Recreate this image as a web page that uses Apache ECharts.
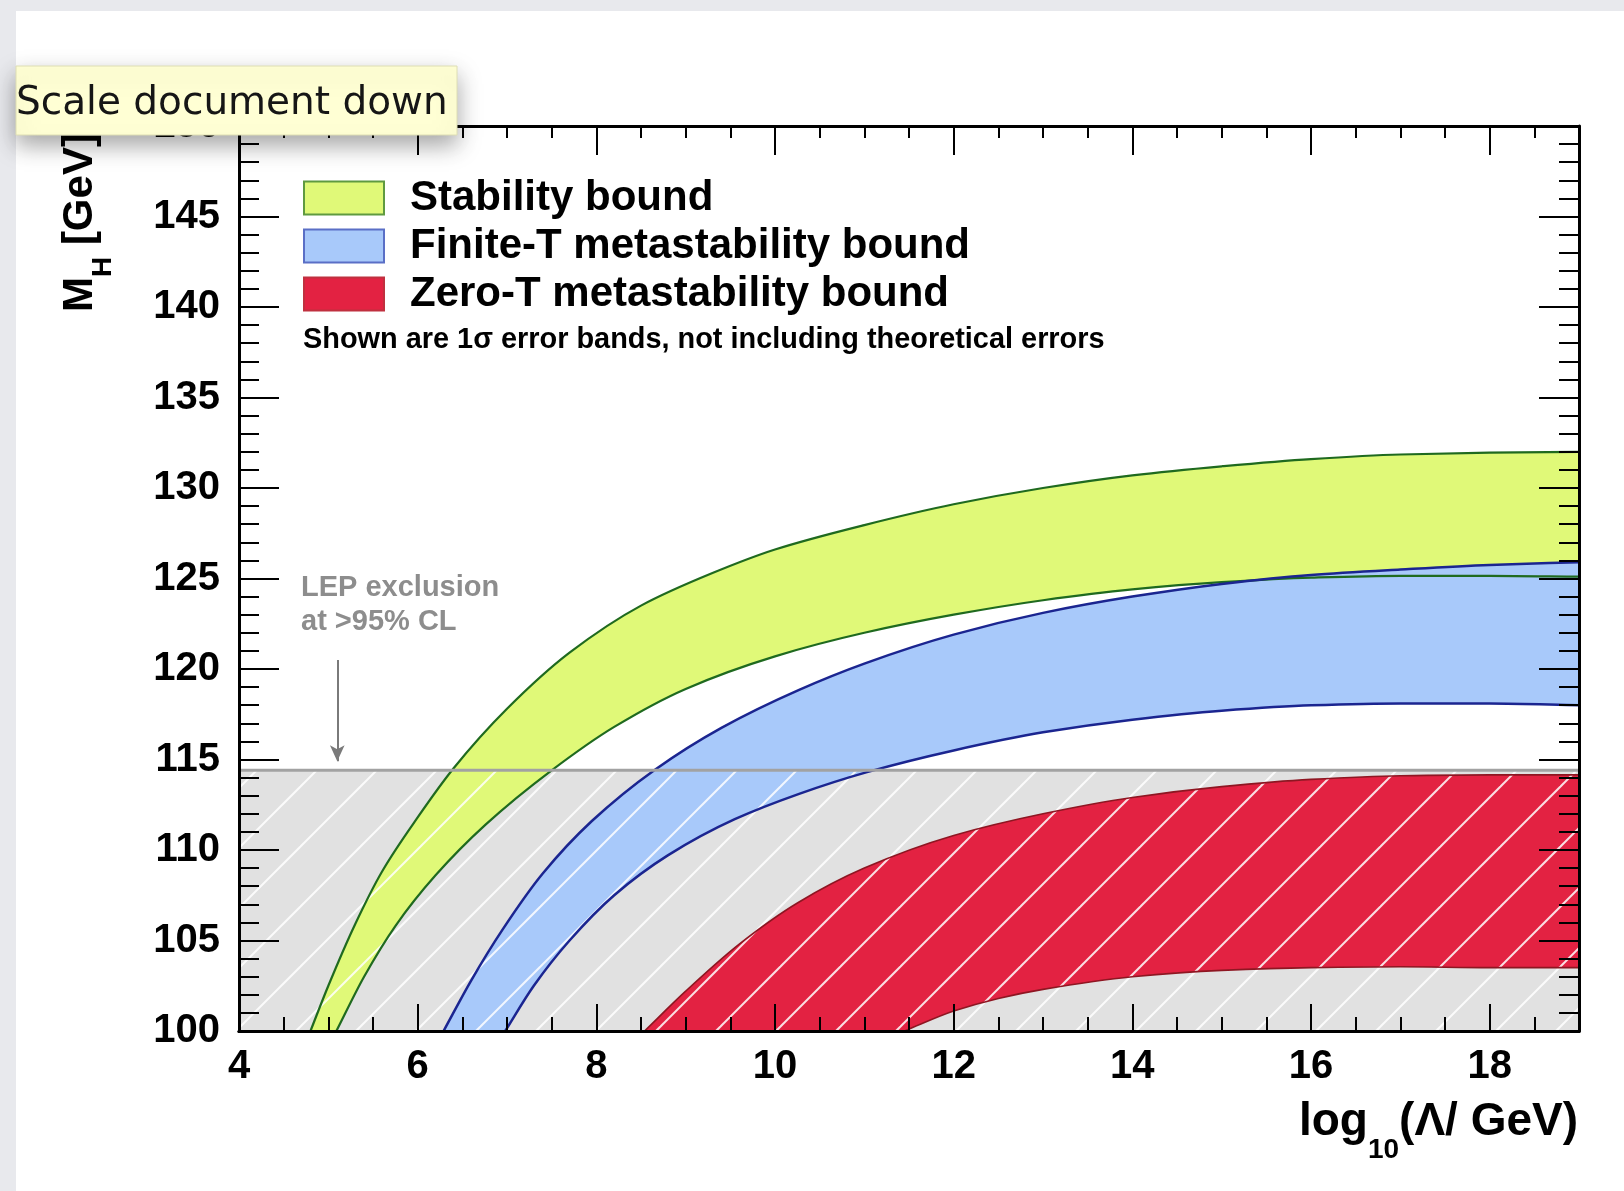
<!DOCTYPE html>
<html>
<head>
<meta charset="utf-8">
<script src="https://cdn.jsdelivr.net/npm/echarts@6/dist/echarts.min.js"></script>
<style>
  html, body { margin: 0; padding: 0; background: #e8e9ed; }
  #chart { width: 1624px; height: 1191px; }
</style>
</head>
<body>
<div id="chart"></div>
<script>
// ---- axis ranges / ticks ----
const xRange = [4, 19];          // log10(Λ/GeV)
const yRange = [100, 150];       // M_H [GeV]
const xMajorStep = 2;
const xMinorStep = 0.5;
const yMajorStep = 5;
const yMinorSplit = 5;

// ---- band edges: [log10(Λ/GeV), M_H] ----
const stabilityUpper = [[4.80,100],[5.0,102.5],[5.3,105.9],[5.6,108.8],[6.0,111.8],[6.4,114.5],[7.0,117.8],[7.7,120.9],[8.5,123.5],[9.3,125.3],[10.0,126.6],[11.0,127.95],[12.0,129.1],[13.0,130.0],[14.0,130.7],[15.0,131.2],[16.0,131.6],[17.0,131.85],[18.0,131.95],[19.0,132.0]];
const stabilityLower = [[5.09,100],[5.40,103.0],[5.75,105.8],[6.2,108.6],[6.76,111.4],[7.5,114.4],[8.2,116.8],[9.0,118.9],[10.0,120.7],[11.0,122.0],[12.0,123.0],[13.0,123.8],[14.0,124.4],[15.0,124.8],[16.0,125.05],[17.0,125.15],[18.0,125.15],[19.0,125.1]];
const finiteTUpper = [[6.29,100],[6.6,102.8],[6.95,105.6],[7.4,108.7],[7.95,111.6],[8.66,114.45],[9.4,116.75],[10.27,118.85],[11.0,120.3],[12.0,121.9],[13.0,123.1],[14.0,124.0],[15.0,124.7],[16.0,125.2],[17.0,125.5],[18.0,125.75],[19.0,125.9]];
const finiteTLower = [[6.98,100],[7.3,102.5],[7.7,105.0],[8.2,107.5],[8.8,109.7],[9.55,111.7],[10.27,113.1],[11.03,114.3],[12.0,115.5],[13.0,116.5],[14.0,117.2],[15.0,117.7],[16.0,118.0],[17.0,118.1],[18.0,118.1],[19.0,118.0]];
const zeroTUpper = [[8.54,100],[9.0,102.2],[9.6,104.8],[10.26,107.1],[11.0,109.0],[12.0,110.8],[13.0,112.0],[14.0,112.9],[15.0,113.5],[16.0,113.9],[17.0,114.1],[18.0,114.15],[19.0,114.15]];
const zeroTLower = [[11.45,100],[12.0,101.1],[12.5,101.8],[13.0,102.3],[14.0,103.0],[15.0,103.35],[16.0,103.5],[17.0,103.55],[18.0,103.5],[19.0,103.5]];

// ---- LEP exclusion ----
const lepBound = 114.4;
const lepArrow = [[5.1, 120.5], [5.1, 114.9]];

// ---- labels ----
const bandNames = ['Stability bound', 'Finite-T metastability bound', 'Zero-T metastability bound'];
const noteText = 'Shown are 1\u03c3 error bands, not including theoretical errors';
const lepText = 'LEP exclusion\nat >95% CL';
const tipText = 'Scale document down';

// ---- styles ----
const bandFill = ['#e0f978', '#a8c9fa', '#e32242'];
const bandEdge = ['#1f6a1f', '#1b2590', '#8e1622'];
const bandEdgeWidth = [2.2, 2.5, 1.6];
const legendEdge = ['#5f9a40', '#5a6fc6', '#c0303f'];
const FONT = '"Liberation Sans", Arial, Helvetica, sans-serif';

const bands = [
  { up: stabilityUpper, lo: stabilityLower },
  { up: finiteTUpper, lo: finiteTLower },
  { up: zeroTUpper, lo: zeroTLower }
];

// Monotone cubic (Fritsch-Butland tangents) through pixel points, as Bezier segments
function smoothSegments(pts) {
  const n = pts.length;
  if (n < 2) return '';
  const dx = [], s = [];
  for (let i = 0; i < n - 1; i++) {
    dx.push(pts[i + 1][0] - pts[i][0]);
    s.push((pts[i + 1][1] - pts[i][1]) / dx[i]);
  }
  const m = new Array(n);
  m[0] = s[0];
  m[n - 1] = s[n - 2];
  for (let i = 1; i < n - 1; i++) {
    if (s[i - 1] * s[i] <= 0) { m[i] = 0; continue; }
    const h0 = dx[i - 1], h1 = dx[i];
    m[i] = 3 * (h0 + h1) / ((2 * h1 + h0) / s[i - 1] + (h1 + 2 * h0) / s[i]);
  }
  let d = '';
  for (let i = 0; i < n - 1; i++) {
    const h = dx[i] / 3;
    const c1x = pts[i][0] + h, c1y = pts[i][1] + m[i] * h;
    const c2x = pts[i + 1][0] - h, c2y = pts[i + 1][1] - m[i + 1] * h;
    d += ' C' + c1x + ' ' + c1y + ' ' + c2x + ' ' + c2y + ' ' + pts[i + 1][0] + ' ' + pts[i + 1][1];
  }
  return d;
}
function curvePath(pts) {
  return 'M' + pts[0][0] + ' ' + pts[0][1] + smoothSegments(pts);
}

function bandFillRenderer(k) {
  return function (params, api) {
    const up = bands[k].up.map(p => api.coord(p));
    const lo = bands[k].lo.map(p => api.coord(p)).reverse();
    const d = curvePath(up) + ' L' + lo[0][0] + ' ' + lo[0][1] + smoothSegments(lo) + ' Z';
    return { type: 'path', shape: { pathData: d }, style: { fill: bandFill[k], stroke: 'none' } };
  };
}

function edgesRenderer(params, api) {
  const children = [];
  bands.forEach((b, k) => {
    [b.up, b.lo].forEach(curve => {
      children.push({
        type: 'path',
        shape: { pathData: curvePath(curve.map(p => api.coord(p))) },
        style: { fill: 'none', stroke: bandEdge[k], lineWidth: bandEdgeWidth[k] }
      });
    });
  });
  return { type: 'group', children };
}

function lepRect(fill) {
  return function (params, api) {
    const p0 = api.coord([xRange[0], lepBound]);
    const p1 = api.coord([xRange[1], yRange[0]]);
    return { type: 'rect', shape: { x: p0[0], y: p0[1], width: p1[0] - p0[0], height: p1[1] - p0[1] }, style: { fill, stroke: 'none' } };
  };
}

// white diagonal hatching tile
function hatchTile() {
  const c = document.createElement('canvas');
  c.width = 60; c.height = 60;
  const g = c.getContext('2d');
  g.strokeStyle = 'rgba(255,255,255,0.85)';
  g.lineWidth = 2;
  [7, 67].forEach(k => { g.beginPath(); g.moveTo(k + 10, -10); g.lineTo(-10, k + 10); g.stroke(); });
  return c;
}

// text measuring for the composed axis titles
const mctx = document.createElement('canvas').getContext('2d');
function textWidth(str, size) {
  mctx.font = 'bold ' + size + 'px ' + FONT;
  return mctx.measureText(str).width;
}

// y title: M_H [GeV], rotated
const yMain = 42, ySub = 28;
const wM = textWidth('M', yMain), wH = textWidth('H', ySub);
const yTitle = {
  type: 'group', x: 80, y: 312, rotation: Math.PI / 2, z: 20,
  children: [
    { type: 'text', x: 0, y: 0, style: { text: 'M', font: 'bold ' + yMain + 'px ' + FONT, fill: '#000', verticalAlign: 'middle' } },
    { type: 'text', x: wM, y: 23, style: { text: 'H', font: 'bold ' + ySub + 'px ' + FONT, fill: '#000', verticalAlign: 'middle' } },
    { type: 'text', x: wM + wH, y: 0, style: { text: ' [GeV]', font: 'bold ' + yMain + 'px ' + FONT, fill: '#000', verticalAlign: 'middle' } }
  ]
};

// x title: log10(Λ/GeV), right aligned to the axis end
const xMain = 46, xSub = 28;
const wLog = textWidth('log', xMain), w10 = textWidth('10', xSub), wRest = textWidth('(\u039b/ GeV)', xMain);
const xTitleRight = 1578;
const xStart = xTitleRight - (wLog + w10 + wRest);
const xTitle = {
  type: 'group', x: xStart, y: 1122, z: 20,
  children: [
    { type: 'text', x: 0, y: 0, style: { text: 'log', font: 'bold ' + xMain + 'px ' + FONT, fill: '#000', verticalAlign: 'middle' } },
    { type: 'text', x: wLog, y: 28, style: { text: '10', font: 'bold ' + xSub + 'px ' + FONT, fill: '#000', verticalAlign: 'middle' } },
    { type: 'text', x: wLog + w10, y: 0, style: { text: '(\u039b/ GeV)', font: 'bold ' + xMain + 'px ' + FONT, fill: '#000', verticalAlign: 'middle' } }
  ]
};

const labelStyle = { fontSize: 40, fontWeight: 'bold', fontFamily: FONT, color: '#000' };
const frameLine = { show: true, onZero: false, lineStyle: { color: '#000', width: 3 } };

function xAxisDef(position, step, tickLen, labels) {
  return {
    type: 'value', position, min: xRange[0], max: xRange[1], interval: step, z: 10,
    axisLine: frameLine,
    axisTick: { show: true, inside: true, length: tickLen, lineStyle: { color: '#000', width: 2 } },
    minorTick: { show: false },
    axisLabel: labels ? Object.assign({ margin: 16, showMaxLabel: false }, labelStyle) : { show: false },
    splitLine: { show: false }
  };
}
function yAxisDef(position, labels) {
  return {
    type: 'value', position, min: yRange[0], max: yRange[1], interval: yMajorStep, z: 10,
    axisLine: frameLine,
    axisTick: { show: true, inside: true, length: 40, lineStyle: { color: '#000', width: 2 } },
    minorTick: { show: true, splitNumber: yMinorSplit, length: 20, lineStyle: { color: '#000', width: 2 } },
    axisLabel: labels ? Object.assign({ margin: 19 }, labelStyle) : { show: false },
    splitLine: { show: false }
  };
}

const chart = echarts.init(document.getElementById('chart'), null, { renderer: 'canvas', width: 1624, height: 1191 });

chart.setOption({
  backgroundColor: '#e8e9ed',
  animation: false,
  grid: { left: 239, top: 126, width: 1340, height: 905, containLabel: false, outerBoundsMode: 'none' },
  xAxis: [
    xAxisDef('bottom', xMajorStep, 27, true),
    xAxisDef('bottom', xMinorStep, 14, false),
    xAxisDef('top', xMajorStep, 29, false),
    xAxisDef('top', xMinorStep, 12, false)
  ],
  yAxis: [yAxisDef('left', true), yAxisDef('right', false)],
  legend: {
    left: 303, top: 177, orient: 'vertical', padding: 0, itemGap: 6,
    itemWidth: 80, itemHeight: 33, selectedMode: false,
    textStyle: { fontSize: 42, fontWeight: 'bold', fontFamily: FONT, color: '#000', padding: [6, 0, 0, 21] },
    data: bandNames.map((n, k) => ({ name: n, icon: 'rect', itemStyle: { color: bandFill[k], borderColor: legendEdge[k], borderWidth: 2 } }))
  },
  series: [
    { type: 'custom', name: 'LEP region', silent: true, clip: true, z: 1, data: [[xRange[0], yRange[0]]], renderItem: lepRect('#e1e1e1') },
    ...bandNames.map((n, k) => ({
      type: 'custom', name: n, silent: true, clip: true, z: 2,
      itemStyle: { color: bandFill[k] },
      data: [[xRange[0], yRange[0]]], renderItem: bandFillRenderer(k)
    })),
    { type: 'custom', name: 'LEP hatch', silent: true, clip: true, z: 3, data: [[xRange[0], yRange[0]]], renderItem: lepRect({ image: hatchTile(), repeat: 'repeat' }) },
    { type: 'custom', name: 'band edges', silent: true, clip: true, z: 4, data: [[xRange[0], yRange[0]]], renderItem: edgesRenderer },
    {
      type: 'line', name: 'LEP bound', silent: true, z: 5, symbol: 'none',
      data: [[xRange[0], lepBound], [xRange[1], lepBound]],
      lineStyle: { color: '#a2a2a2', width: 3 },
      markLine: {
        silent: true, symbol: ['none', 'arrow'], symbolSize: [11, 16],
        label: { show: false },
        lineStyle: { color: '#7a7a7a', width: 2, type: 'solid' },
        data: [[{ coord: lepArrow[0] }, { coord: lepArrow[1] }]]
      }
    }
  ],
  graphic: [
    { type: 'rect', z: -10, shape: { x: 16, y: 11, width: 1700, height: 1300 }, style: { fill: '#ffffff' } },
    { type: 'text', x: 303, y: 340, z: 20, style: { text: noteText, font: 'bold 28.9px ' + FONT, fill: '#000', verticalAlign: 'middle' } },
    { type: 'text', x: 301, y: 571, z: 20, style: { text: lepText, font: 'bold 29px ' + FONT, fill: '#8d8d8d', lineHeight: 34, verticalAlign: 'top' } },
    yTitle,
    xTitle,
    {
      type: 'rect', z: 100, shape: { x: 16, y: 66, width: 441, height: 69 },
      style: { fill: '#ffffd4', stroke: '#dedeb4', lineWidth: 1, shadowBlur: 22, shadowOffsetY: 10, shadowColor: 'rgba(0,0,0,0.35)' }
    },
    { type: 'text', x: 16, y: 104, z: 101, style: { text: tipText, font: '39px "DejaVu Sans", sans-serif', fill: '#161616', verticalAlign: 'middle' } }
  ]
});
</script>
</body>
</html>
